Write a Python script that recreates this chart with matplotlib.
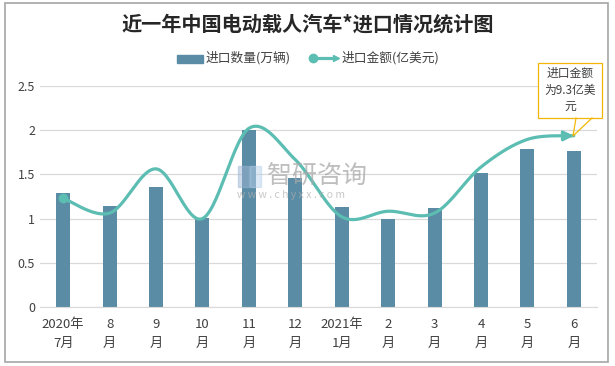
import numpy as np
import matplotlib.pyplot as plt
from matplotlib.patches import Rectangle
from matplotlib.lines import Line2D

plt.rcParams['font.family'] = ['Noto Sans CJK SC', 'DejaVu Sans']

months = ['2020年\n7月', '8\n月', '9\n月', '10\n月', '11\n月', '12\n月',
          '2021年\n1月', '2\n月', '3\n月', '4\n月', '5\n月', '6\n月']
qty = [1.29, 1.14, 1.36, 1.01, 2.0, 1.46, 1.13, 1.0, 1.12, 1.52, 1.79, 1.76]   # 万辆
amount = [5.9, 5.1, 7.5, 4.8, 9.7, 8.0, 4.9, 5.2, 5.1, 7.6, 9.1, 9.3]        # 亿美元

bar_color = '#5B8CA5'
line_color = '#5CBDB3'
grid_color = '#D9D9D9'
text_color = '#404040'


def smooth(xs, ys, n=30):
    # catmull-rom style smoothing, like the office "smoothed line"
    p = np.column_stack([xs, ys]).astype(float)
    p = np.vstack([p[0], p, p[-1]])
    out = []
    t = np.linspace(0, 1, n, endpoint=False)[:, None]
    for i in range(1, len(p) - 2):
        p0, p1, p2, p3 = p[i - 1], p[i], p[i + 1], p[i + 2]
        seg = 0.5 * ((2 * p1) + (-p0 + p2) * t + (2 * p0 - 5 * p1 + 4 * p2 - p3) * t ** 2
                     + (-p0 + 3 * p1 - 3 * p2 + p3) * t ** 3)
        out.append(seg)
    out.append(p[-2][None, :])
    out = np.vstack(out)
    return out[:, 0], out[:, 1]


def fx(px):
    return px / 615


def fy(py):
    return 1 - py / 366


fig = plt.figure(figsize=(6.15, 3.66), dpi=100)
fig.patches.append(Rectangle((fx(5), fy(362)), 603 / 615, 359 / 366, transform=fig.transFigure,
                             fill=False, edgecolor='#A6A6A6', lw=1.2))

ax = fig.add_axes([fx(40), fy(307), 557 / 615, 221 / 366])
x = np.arange(len(months))
ax.bar(x, qty, width=0.3, color=bar_color, zorder=2, label='进口数量(万辆)')
ax.set_ylim(0, 2.5)
ax.set_xlim(-0.5, len(months) - 0.5)
ax.set_yticks(np.arange(0, 2.6, 0.5))
ax.set_yticklabels(['0', '0.5', '1', '1.5', '2', '2.5'])
ax.grid(axis='y', color=grid_color, lw=0.9, zorder=0)
for s in ['top', 'right', 'left']:
    ax.spines[s].set_visible(False)
ax.spines['bottom'].set_color(grid_color)
ax.tick_params(length=0, labelsize=9, colors=text_color)
ax.tick_params(axis='x', pad=8)
ax.set_xticks(x)
ax.set_xticklabels(months, fontsize=9.5, linespacing=1.6)

ax2 = ax.twinx()
ax2.set_ylim(0, 12)
ax2.set_yticks([])
for s in ax2.spines.values():
    s.set_visible(False)
sx, sy = smooth(x, amount)
ax2.plot(sx, sy, color=line_color, lw=2.3, solid_capstyle='round', zorder=3)
ax2.plot(x[0], amount[0], 'o', color=line_color, ms=6, zorder=4)
ax2.annotate('', xy=(sx[-1], sy[-1]), xytext=(sx[-8], sy[-8]),
             arrowprops=dict(arrowstyle='-|>', color=line_color, lw=2.3,
                             mutation_scale=14, shrinkA=0, shrinkB=0))

# legend
fig.patches.append(Rectangle((fx(177), fy(63)), 26 / 615, 8 / 366,
                             transform=fig.transFigure, color=bar_color))
fig.text(fx(206), fy(58), '进口数量(万辆)', fontsize=9.2, color=text_color, va='center')
fig.lines.append(Line2D([fx(312), fx(334)], [fy(58)] * 2, transform=fig.transFigure,
                        color=line_color, lw=2.3))
fig.lines.append(Line2D([fx(313)], [fy(58)], transform=fig.transFigure,
                        marker='o', color=line_color, ms=6))
fig.lines.append(Line2D([fx(336)], [fy(58)], transform=fig.transFigure,
                        marker='>', color=line_color, ms=5))
fig.text(fx(342), fy(58), '进口金额(亿美元)', fontsize=9.2, color=text_color, va='center')

fig.text(fx(308), fy(24), '近一年中国电动载人汽车*进口情况统计图', fontsize=14.5,
         fontweight='bold', color='#262626', ha='center', va='center')

# callout
box_c = '#F2B705'
fig.patches.append(Rectangle((fx(538), fy(118)), 64 / 615, 55 / 366,
                             transform=fig.transFigure, facecolor='white', edgecolor=box_c, lw=0.9))
fig.text(fx(570), fy(90), '进口金额\n为9.3亿美\n元', fontsize=8.5, color=text_color,
         ha='center', va='center', linespacing=1.35)
fig.lines.append(Line2D([fx(576), fx(573), fx(592)], [fy(118), fy(136), fy(118)],
                        transform=fig.transFigure, color=box_c, lw=0.9))

# watermark
fig.text(fx(267), fy(176), '智研咨询', fontsize=18, color='#A8A8A8', alpha=0.75,
         ha='left', va='center')
fig.text(fx(237), fy(195), 'w w w . c h y x x . c o m', fontsize=7.5, color='#B0B0B0',
         alpha=0.7, ha='left', va='center')
fig.patches.append(Rectangle((fx(238), fy(187)), 11 / 615, 21 / 366,
                             transform=fig.transFigure, color='#9FB7D6', alpha=0.5))
fig.patches.append(Rectangle((fx(250), fy(187)), 11 / 615, 21 / 366,
                             transform=fig.transFigure, color='#B9D3EC', alpha=0.5))

fig.savefig('out.png', dpi=100)
